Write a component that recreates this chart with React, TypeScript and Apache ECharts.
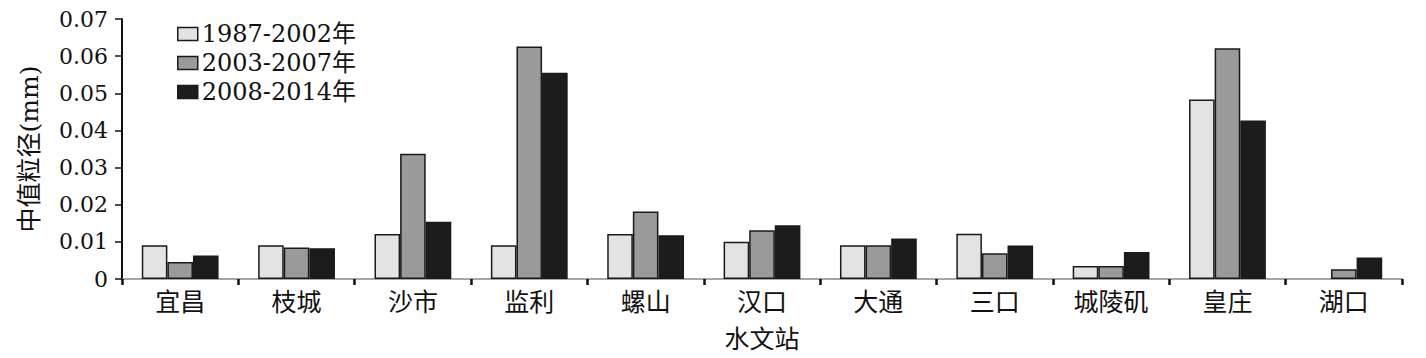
import React, { useEffect, useRef } from "react";
import * as echarts from "echarts";

const categories = ["宜昌", "枝城", "沙市", "监利", "螺山", "汉口", "大通", "三口", "城陵矶", "皇庄", "湖口"];
const seriesNames = ["1987-2002年", "2003-2007年", "2008-2014年"];
const period1 = [0.0091, 0.0091, 0.0121, 0.0091, 0.0121, 0.0100, 0.0091, 0.0122, 0.0035, 0.0483, null];
const period2 = [0.0046, 0.0085, 0.0337, 0.0626, 0.0182, 0.0131, 0.0091, 0.0069, 0.0035, 0.0621, 0.0026];
const period3 = [0.0063, 0.0083, 0.0154, 0.0555, 0.0118, 0.0145, 0.0109, 0.0090, 0.0073, 0.0427, 0.0058];
const colors = ["#e3e3e3", "#9a9a9a", "#1c1c1c"];

const FONT = "'DejaVu Serif', 'Noto Sans CJK SC', serif";

export default function App() {
  const ref = useRef<HTMLDivElement>(null);
  useEffect(() => {
    if (!ref.current) return;
    const chart = echarts.init(ref.current, null, { renderer: "svg" });
    const data = [period1, period2, period3];
    chart.setOption({
      animation: false,
      backgroundColor: "#ffffff",
      textStyle: { fontFamily: FONT },
      grid: { left: 122, right: 24, top: 19, bottom: 79, containLabel: false },
      legend: {
        orient: "vertical",
        left: 172,
        top: 17,
        icon: "rect",
        itemWidth: 20,
        itemHeight: 13,
        itemGap: 5,
        data: seriesNames,
        itemStyle: { borderColor: "#1a1a1a", borderWidth: 1.5 },
        textStyle: { fontFamily: FONT, fontSize: 24, color: "#111", padding: [0, 0, 0, -1] },
      },
      xAxis: {
        type: "category",
        data: categories,
        name: "水文站",
        nameLocation: "middle",
        nameGap: 48,
        nameTextStyle: { fontFamily: FONT, fontSize: 25, color: "#111" },
        axisLine: { lineStyle: { color: "#888", width: 1.5 } },
        axisTick: { show: true, length: 6, lineStyle: { color: "#111", width: 2.5 } },
        axisLabel: { fontFamily: FONT, fontSize: 25, color: "#111", margin: 11 },
      },
      yAxis: {
        type: "value",
        min: 0,
        max: 0.07,
        interval: 0.01,
        name: "中值粒径(mm)",
        nameLocation: "middle",
        nameGap: 80,
        nameRotate: 90,
        nameTextStyle: { fontFamily: FONT, fontSize: 25, color: "#111" },
        splitLine: { show: false },
        axisLine: { show: true, lineStyle: { color: "#111", width: 2 } },
        axisTick: { show: true, length: 7, lineStyle: { color: "#111", width: 1.5 } },
        axisLabel: {
          fontFamily: FONT,
          fontSize: 22,
          color: "#111",
          margin: 14,
          formatter: (v: number) => (v === 0 ? "0" : v.toFixed(2)),
        },
      },
      series: seriesNames.map((name, i) => ({
        name,
        type: "bar",
        data: data[i].map((v) => (v === null ? "-" : v)),
        barGap: "0%",
        barCategoryGap: "34%",
        itemStyle: { color: colors[i], borderColor: "#1a1a1a", borderWidth: 1.5 },
      })),
    });
    return () => chart.dispose();
  }, []);
  return (
    <div
      ref={ref}
      style={{ position: "absolute", left: 0, top: 0, width: 1426, height: 358 }}
    />
  );
}
